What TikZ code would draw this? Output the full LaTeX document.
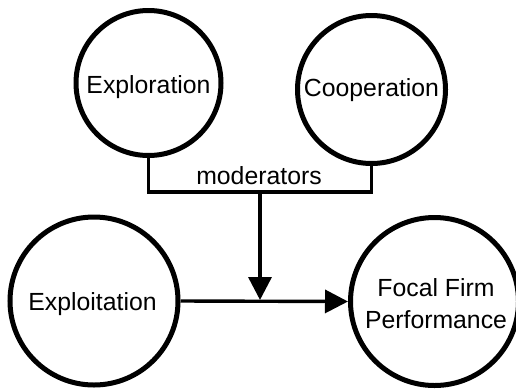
\documentclass[tikz,border=0pt]{standalone}
\usepackage{fontspec}
\setmainfont{Liberation Sans}
\usetikzlibrary{arrows.meta}
\begin{document}
\begin{tikzpicture}[x=1pt,y=-1pt,
  bigcirc/.style={circle,draw,line width=5pt,inner sep=0pt},
  topcirc/.style={bigcirc,minimum size=145pt},
  botcirc/.style={bigcirc,minimum size=168pt},
  lbl/.style={anchor=base,inner sep=0pt,font=\fontsize{24.8}{31.5}\selectfont,align=center},
  conn/.style={line width=3.4pt},
  arr/.style={conn,-{Triangle[length=23pt,width=23pt]}}]
\useasboundingbox (0,0) rectangle (516,389);
\node[topcirc] (expl) at (148.5,83) {};
\node[topcirc,minimum size=148pt] (coop) at (371.5,89.5) {};
\node[botcirc] (exploit) at (94,301) {};
\node[botcirc] (focal) at (434.5,301.5) {};
\node[lbl] (t1) at (148.5,93) {Exploration};
\node[lbl] (t2) at (371.5,96) {Cooperation};
\node[lbl] (t3) at (92.5,310) {Exploitation};
\node[lbl] (t4) at (436,328) {Focal Firm\\Performance};
\node[lbl] (mod) at (259,184) {moderators};
\coordinate (bl) at (148.5,192);
\coordinate (br) at (371.5,192);
\coordinate (bm) at (260,192);
\coordinate (j) at (260,300);
\draw[conn,line cap=rect] (expl.south) -- (bl) -- (br) -- (coop.south);
\draw[arr] (bm) -- (j);
\draw[arr] (exploit.east) -- (focal.west);
\end{tikzpicture}
\end{document}
